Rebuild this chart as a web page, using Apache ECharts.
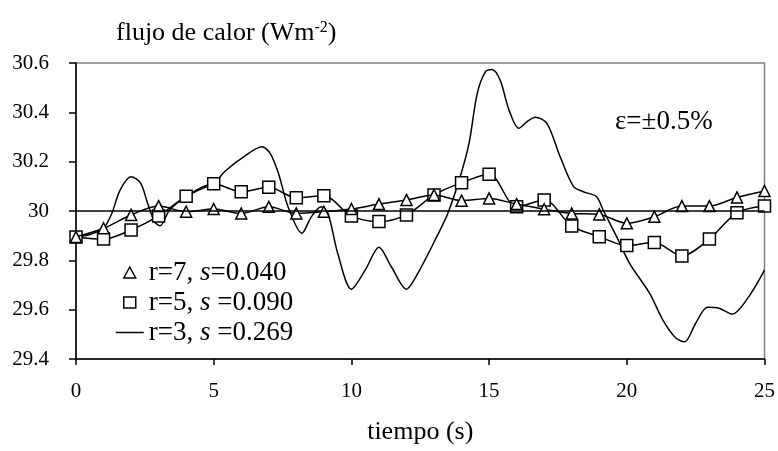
<!DOCTYPE html>
<html>
<head>
<meta charset="utf-8">
<script src="https://cdn.jsdelivr.net/npm/echarts@6/dist/echarts.min.js"></script>
<style>
html,body{margin:0;padding:0;background:#fff;}
#chart{width:778px;height:451px;}
</style>
</head>
<body>
<div id="chart"></div>
<script>
// ---- data ----
const xTicks = [0, 5, 10, 15, 20, 25];
const yTicks = ['29.4', '29.6', '29.8', '30', '30.2', '30.4', '30.6'];
const timeSteps = [0,1,2,3,4,5,6,7,8,9,10,11,12,13,14,15,16,17,18,19,20,21,22,23,24,25];
const r7 = [29.895, 29.93, 29.984, 30.02, 29.997, 30.008, 29.99, 30.017, 29.99, 29.997, 30.008, 30.028, 30.045, 30.065, 30.042, 30.051, 30.028, 30.007, 29.99, 29.986, 29.95, 29.977, 30.02, 30.02, 30.055, 30.081];
const r5 = [29.895, 29.886, 29.923, 29.98, 30.06, 30.11, 30.078, 30.096, 30.054, 30.062, 29.98, 29.957, 29.984, 30.065, 30.115, 30.149, 30.017, 30.045, 29.939, 29.896, 29.86, 29.872, 29.818, 29.886, 29.993, 30.02];
const r3 = [[0,29.895],[0.5,29.905],[1.0,29.93],[1.3,29.99],[1.6,30.085],[2.0,30.139],[2.35,30.112],[2.6,30.031],[2.85,29.957],[3.05,29.94],[3.4,30.004],[4.0,30.058],[4.6,30.092],[5.0,30.11],[5.4,30.16],[6.1,30.22],[6.75,30.26],[7.05,30.234],[7.35,30.153],[7.7,30.017],[8.2,29.91],[8.55,29.977],[8.9,30.017],[9.15,29.99],[9.5,29.83],[10.0,29.683],[10.5,29.76],[11.0,29.853],[11.45,29.774],[12.0,29.683],[12.4,29.745],[13.1,29.896],[13.5,29.99],[13.95,30.139],[14.27,30.274],[14.57,30.477],[14.87,30.565],[15.1,30.574],[15.4,30.531],[15.72,30.41],[16.08,30.335],[16.38,30.362],[16.68,30.38],[17.1,30.355],[17.58,30.22],[18.06,30.1],[18.42,30.078],[18.9,30.058],[19.14,30.004],[19.63,29.896],[20.1,29.788],[20.83,29.666],[21.31,29.558],[21.79,29.484],[22.1,29.47],[22.5,29.545],[22.93,29.61],[23.35,29.606],[23.83,29.582],[24.43,29.653],[25,29.76]];
const refLevel = 30;
const names = ['r=7, {i|s}=0.040', 'r=5, {i|s} =0.090', 'r=3, {i|s} =0.269'];

const FONT = 'Liberation Serif';
const chart = echarts.init(document.getElementById('chart'));
const pair = (arr) => arr.map((v, i) => [timeSteps[i], v]);

// legend icons: bounding box 28x12 with the glyph centred
const triIcon = 'path://M0,0M28,12M8,11.5L14,0.5L20,11.5Z';
const sqIcon = 'path://M0,0M28,12M8,0.5L20,0.5L20,11.5L8,11.5Z';
const lineIcon = 'path://M0,0M28,12M0,5.25L28,5.25L28,6.75L0,6.75Z';

chart.setOption({
  animation: false,
  backgroundColor: '#fff',
  title: {
    text: 'flujo de calor (Wm{sup|-2})',
    left: 116, top: 20, padding: 0,
    textStyle: {
      fontFamily: FONT, fontSize: 26, fontWeight: 'normal', color: '#000',
      rich: { sup: { fontFamily: FONT, fontSize: 16, color: '#000', verticalAlign: 'top', lineHeight: 14 } }
    }
  },
  grid: {
    left: 76, right: 9, top: 63, bottom: 92,
    show: true, borderColor: '#808080', borderWidth: 1.5, backgroundColor: 'transparent'
  },
  legend: {
    orient: 'vertical', left: 110, top: 254,
    itemWidth: 28, itemHeight: 12, itemGap: 3,
    symbolKeepAspect: true,
    textStyle: {
      fontFamily: FONT, fontSize: 27, color: '#000',
      rich: { i: { fontFamily: FONT, fontSize: 27, fontStyle: 'italic', color: '#000' } }
    },
    formatter: (n) => n,
    data: [
      { name: names[0], icon: triIcon, itemStyle: { color: '#fff', borderColor: '#000', borderWidth: 1.5 } },
      { name: names[1], icon: sqIcon, itemStyle: { color: '#fff', borderColor: '#000', borderWidth: 1.5 } },
      { name: names[2], icon: lineIcon, itemStyle: { color: '#000', borderWidth: 0 } }
    ]
  },
  graphic: [{
    type: 'text', left: 615, top: 108,
    style: { text: 'ε=±0.5%', font: '27px "Liberation Serif"', fill: '#000' }
  }],
  xAxis: {
    type: 'value', min: xTicks[0], max: xTicks[xTicks.length - 1], interval: 5,
    name: 'tiempo (s)', nameLocation: 'middle', nameGap: 60,
    nameTextStyle: { fontFamily: FONT, fontSize: 26, color: '#000' },
    axisLine: { show: true, onZero: false, lineStyle: { color: '#000', width: 1.5 } },
    axisTick: { show: true, length: 6, lineStyle: { color: '#000', width: 1.5 } },
    axisLabel: { margin: 22, fontFamily: FONT, fontSize: 21, color: '#000',
      formatter: (v) => String(xTicks.find(t => Math.abs(t - v) < 1e-6) ?? '') },
    splitLine: { show: false }
  },
  yAxis: {
    type: 'value', min: 29.4, max: 30.6, interval: 0.2,
    axisLine: { show: true, lineStyle: { color: '#000', width: 1.5 } },
    axisTick: { show: true, length: 7, lineStyle: { color: '#000', width: 1.5 } },
    axisLabel: { margin: 27, fontFamily: FONT, fontSize: 21, color: '#000',
      formatter: (v) => { const idx = Math.round((v - 29.4) / 0.2); return yTicks[idx] || ''; } },
    splitLine: { show: false }
  },
  series: [
    {
      name: names[2], type: 'line', data: r3, symbol: 'none', smooth: 0.3,
      lineStyle: { color: '#000', width: 1.5 }, itemStyle: { color: '#000' }, z: 2,
      markLine: {
        silent: true, symbol: ['none', 'none'], label: { show: false },
        lineStyle: { color: '#000', width: 1.5, type: 'solid' },
        data: [{ yAxis: refLevel }]
      }
    },
    {
      name: names[1], type: 'line', data: pair(r5), symbol: 'rect', symbolSize: 12, smooth: 0.3,
      showAllSymbol: true,
      lineStyle: { color: '#000', width: 1.5 },
      itemStyle: { color: '#fff', borderColor: '#000', borderWidth: 1.5 }, z: 3
    },
    {
      name: names[0], type: 'line', data: pair(r7), symbol: 'triangle', symbolSize: 11, smooth: 0.3,
      showAllSymbol: true,
      lineStyle: { color: '#000', width: 1.5 },
      itemStyle: { color: '#fff', borderColor: '#000', borderWidth: 1.5 }, z: 4
    }
  ]
});
</script>
</body>
</html>
